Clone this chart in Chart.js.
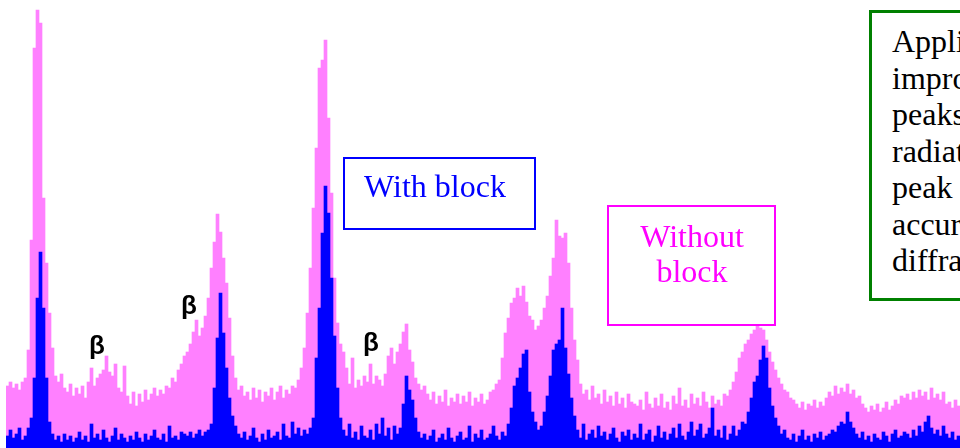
<!DOCTYPE html>
<html>
<head>
<meta charset="utf-8">
<script src="https://cdn.jsdelivr.net/npm/chart.js@4/dist/chart.umd.min.js"></script>
<style>
  html, body { margin: 0; padding: 0; background: #ffffff; overflow: hidden; }
  #wrap { position: relative; width: 960px; height: 448px; overflow: hidden; }
  #c { position: absolute; left: 0; top: 0; }
  .box { position: absolute; box-sizing: border-box; background: #ffffff; }
  .serif { position: absolute; font-family: "Liberation Serif", "Times New Roman", serif; font-size: 32px; white-space: nowrap; }
  .beta { position: absolute; font-family: "Liberation Sans", Arial, sans-serif; font-size: 26px; font-weight: bold; line-height: 26px; color: #000; }
</style>
</head>
<body>
<div id="wrap">
  <canvas id="c" width="960" height="448"></canvas>

  <div class="box" style="left:343px;top:157px;width:193px;height:73px;border:2px solid #0000ff;"></div>
  <div class="serif" style="left:335px;top:171px;width:200px;text-align:center;line-height:30px;color:#0000ff;">With block</div>

  <div class="box" style="left:607px;top:205px;width:169px;height:121px;border:2px solid #ff00ff;"></div>
  <div class="serif" style="left:592px;top:219px;width:200px;text-align:center;line-height:35px;color:#ff00ff;">Without<br>block</div>

  <div class="box" style="left:869px;top:10px;width:300px;height:291px;border:3px solid #008000;"></div>
  <div class="serif" style="left:892px;top:23px;line-height:36.5px;color:#000;">Application<br>improves<br>peaks<br>radiation<br>peak<br>accuracy<br>diffraction</div>

  <div class="beta" style="left:89px;top:332px;">β</div>
  <div class="beta" style="left:181px;top:292px;">β</div>
  <div class="beta" style="left:363px;top:329px;">β</div>
</div>
<script>
// Channel index (one column per channel), counts as height above baseline
const withoutBlock = [
  62,66,60,64,58,66,70,98,208,400,
  438,425,250,185,135,100,72,66,74,60,
  56,64,52,60,54,62,50,66,80,62,
  70,74,78,92,76,72,84,60,56,82,
  52,44,56,42,54,46,58,48,54,60,
  52,58,54,62,60,70,66,78,84,92,
  96,104,116,128,112,120,132,150,180,206,
  234,216,190,165,130,92,70,58,62,52,
  56,48,60,50,58,46,56,52,60,48,
  56,62,50,58,54,62,60,68,80,100,
  135,180,240,300,380,388,408,330,255,170,
  125,104,96,80,64,90,60,68,62,72,
  66,84,64,72,68,62,74,92,100,84,
  96,104,116,124,98,86,70,64,58,62,
  54,48,56,44,52,46,58,42,50,46,
  54,44,52,46,56,42,50,46,54,44,
  48,56,58,64,68,90,115,130,145,150,
  160,152,162,146,132,128,118,122,128,140,
  152,172,190,228,212,210,215,185,140,108,
  88,64,54,58,48,62,50,54,44,58,
  46,52,42,56,44,50,40,54,46,44,
  42,48,38,56,44,40,50,42,54,40,
  46,38,52,44,60,42,48,40,54,44,
  50,42,56,46,40,52,44,48,42,54,
  52,58,66,76,90,96,104,108,114,118,
  124,120,118,108,96,86,78,70,64,58,
  56,50,48,44,40,46,38,44,42,48,
  40,46,42,50,56,52,62,54,60,56,
  64,54,58,50,52,44,40,36,42,38,
  44,36,40,46,38,42,48,44,52,50,
  54,48,56,50,58,52,56,48,60,50,
  54,48,56,44,46,40,48,42
];
const withBlock = [
  12,18,10,14,20,8,12,20,30,70,
  150,196,140,70,26,14,8,12,6,14,
  8,12,6,10,16,8,12,6,24,10,
  14,8,18,10,6,12,20,8,14,10,
  6,12,8,16,10,6,14,8,12,18,
  10,8,14,6,22,10,12,8,16,14,
  12,16,10,14,18,12,16,18,24,60,
  110,155,115,80,50,32,22,14,10,16,
  8,12,20,10,6,14,8,18,10,12,
  16,8,24,12,10,26,14,20,12,18,
  14,20,30,90,140,215,262,235,170,112,
  60,30,18,12,24,10,16,8,22,12,
  10,18,8,24,14,30,12,20,8,22,
  14,20,44,72,58,48,30,16,10,14,
  8,12,18,6,10,14,8,20,10,6,
  12,16,8,10,22,6,14,10,18,8,
  10,14,22,12,8,16,12,24,40,62,
  70,80,94,98,56,36,26,18,22,36,
  52,72,98,104,108,140,100,74,50,32,
  18,10,24,8,14,18,10,22,12,16,
  8,14,20,10,6,16,12,18,8,14,
  10,24,8,14,18,6,12,22,10,16,
  8,14,20,10,24,12,8,16,26,12,
  18,24,10,14,20,40,12,18,10,22,
  8,14,22,12,18,26,24,36,50,66,
  72,88,102,90,60,42,30,22,14,18,
  10,8,14,6,12,18,8,12,6,14,
  10,16,8,12,14,18,16,22,26,24,
  36,26,20,14,10,16,8,12,6,14,
  10,8,16,12,6,14,18,10,12,16,
  14,10,18,12,22,16,26,32,20,14,
  18,12,22,14,10,16,8,12
];
const channels = withoutBlock.map((_, i) => i + 1);

new Chart(document.getElementById('c'), {
  type: 'bar',
  data: {
    labels: channels,
    datasets: [
      { label: 'With block', data: withBlock, backgroundColor: '#0000ff', grouped: false,
        barPercentage: 1, categoryPercentage: 1, borderWidth: 0 },
      { label: 'Without block', data: withoutBlock, backgroundColor: '#ff80ff', grouped: false,
        barPercentage: 1, categoryPercentage: 1, borderWidth: 0 }
    ]
  },
  options: {
    responsive: false,
    animation: false,
    layout: { padding: { left: 6, right: 0, top: 0, bottom: 0 } },
    plugins: { legend: { display: false }, tooltip: { enabled: false } },
    scales: {
      x: { display: false, grid: { display: false } },
      y: { display: false, min: 0, max: 448, grid: { display: false } }
    }
  }
});
</script>
</body>
</html>
